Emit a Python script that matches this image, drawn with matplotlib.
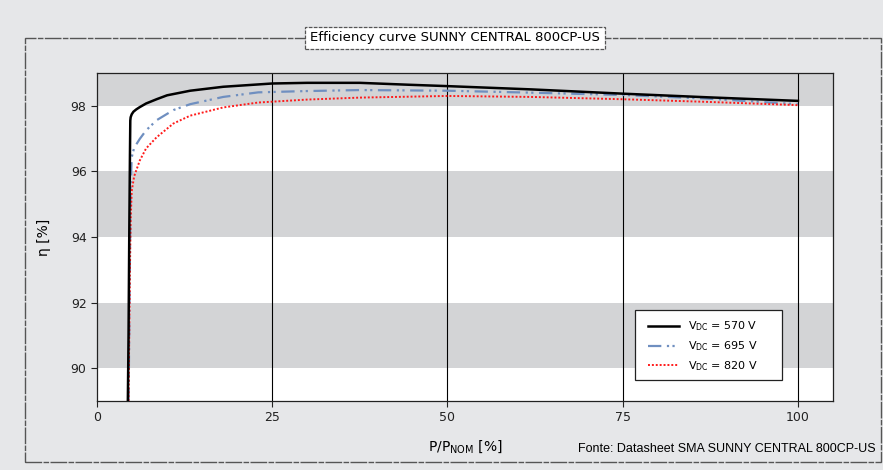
import matplotlib.pyplot as plt
from matplotlib.patches import Rectangle

# Efficiency curves
p_570 = [4.4, 4.5, 4.6, 4.7, 4.75, 4.8, 4.95, 5.2, 5.6, 6.1, 7.0, 8.5, 10.0, 13.3, 18.0, 25.0, 30.0, 37.5, 44.7, 50.0, 62.0, 75.0, 87.0, 100.0]
eta_570 = [89.0, 91.0, 94.0, 96.5, 97.55, 97.65, 97.74, 97.82, 97.89, 97.96, 98.07, 98.2, 98.32, 98.46, 98.58, 98.68, 98.7, 98.7, 98.64, 98.6, 98.5, 98.37, 98.26, 98.15]

p_695 = [4.5, 4.6, 4.7, 4.8, 4.95, 5.3, 6.1, 7.0, 8.5, 10.9, 13.3, 18.0, 23.0, 30.0, 37.5, 50.0, 62.0, 75.0, 87.0, 100.0]
eta_695 = [89.0, 91.0, 93.5, 95.5, 96.43, 96.72, 96.99, 97.25, 97.56, 97.87, 98.05, 98.27, 98.41, 98.45, 98.48, 98.46, 98.4, 98.33, 98.22, 98.05]

p_820 = [4.5, 4.6, 4.7, 4.8, 4.95, 5.3, 6.1, 7.0, 8.5, 10.9, 13.3, 18.0, 23.0, 30.0, 37.5, 50.0, 62.0, 75.0, 87.0, 100.0]
eta_820 = [89.0, 91.0, 93.0, 94.5, 95.4, 95.85, 96.33, 96.7, 97.04, 97.46, 97.7, 97.95, 98.1, 98.19, 98.25, 98.3, 98.27, 98.2, 98.12, 98.02]

x_ticks = [0, 25, 50, 75, 100]
y_ticks = [90, 92, 94, 96, 98]
gray_bands = [(90, 92), (94, 96), (98, 99)]

bg = "#e6e7e9"
band = "#d3d4d6"

fig = plt.figure(figsize=(8.83, 4.7), dpi=100, facecolor=bg)

# dashed outer frame
frame = Rectangle((25 / 883, 1 - 462 / 470), (881 - 25) / 883, (462 - 38) / 470,
                  transform=fig.transFigure, fill=False, edgecolor="#555555",
                  linewidth=1.0, linestyle=(0, (12, 1, 4, 1)))
fig.patches.append(frame)

ax = fig.add_axes([97 / 883, 1 - 401 / 470, (833 - 97) / 883, (401 - 73) / 470])
ax.set_facecolor("white")
for lo, hi in gray_bands:
    ax.axhspan(lo, hi, color=band, zorder=0, linewidth=0)
for xv in x_ticks[1:]:
    ax.axvline(xv, color="black", linewidth=0.8, zorder=1)

ax.plot(p_570, eta_570, color="black", linewidth=1.8, label=r"V$_{\mathregular{DC}}$ = 570 V", zorder=4)
ax.plot(p_695, eta_695, color="#6f8fc0", linewidth=1.6, linestyle=(0, (6, 2.5, 1, 1.5, 1, 2.5)),
        label=r"V$_{\mathregular{DC}}$ = 695 V", zorder=3)
ax.plot(p_820, eta_820, color="#ff1a1a", linewidth=1.4, linestyle=(0, (1, 1)),
        label=r"V$_{\mathregular{DC}}$ = 820 V", zorder=3)

ax.set_xlim(0, 105)
ax.set_ylim(89, 99)
ax.set_xticks(x_ticks)
ax.set_yticks(y_ticks)
ax.tick_params(direction="out", length=4, width=0.8, labelsize=9, colors="#222222")
for sp in ax.spines.values():
    sp.set_linewidth(0.9)
    sp.set_color("#222222")

ax.set_xlabel(r"P/P$_{\mathregular{NOM}}$ [%]", fontsize=10, labelpad=10)
ax.set_ylabel("η [%]", fontsize=10, labelpad=14)

# legend box is wider than its content, so draw the frame separately
ax.add_patch(Rectangle((0.731, 0.064), 0.1997, 0.2134, transform=ax.transAxes,
                       facecolor="white", edgecolor="#222222", linewidth=0.9, zorder=5))
leg = ax.legend(loc="upper left", bbox_to_anchor=(0.7486, 0.2485), borderaxespad=0, fontsize=8,
                frameon=False, handlelength=2.8, borderpad=0, labelspacing=0.55, handletextpad=0.8)
leg.set_zorder(6)

fig.text(455 / 883, 1 - 38 / 470, "Efficiency curve SUNNY CENTRAL 800CP-US",
         ha="center", va="center", fontsize=9.5,
         bbox=dict(boxstyle="square,pad=0.35", facecolor="white", edgecolor="#555555",
                   linewidth=0.9, linestyle=(0, (3, 1))))

fig.text(876 / 883, 1 - 449 / 470, "Fonte: Datasheet SMA SUNNY CENTRAL 800CP-US",
         ha="right", va="center", fontsize=9, family="Liberation Sans")

fig.savefig("out.png", dpi=100, facecolor=bg)
